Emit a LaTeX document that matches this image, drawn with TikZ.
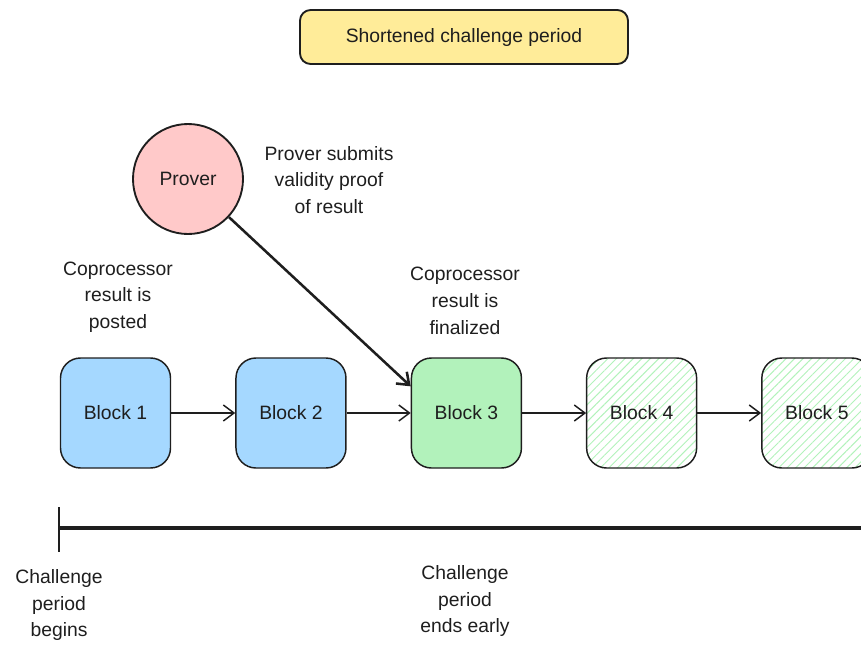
\documentclass[tikz,border=0pt]{standalone}
\usepackage{fontspec}
\setmainfont{Liberation Sans}
\usetikzlibrary{arrows.meta,positioning,patterns.meta}

\definecolor{blockblue}{HTML}{A5D8FF}
\definecolor{blockgreen}{HTML}{B2F2BB}
\definecolor{proverred}{HTML}{FFC9C9}
\definecolor{titleyellow}{HTML}{FFEC99}
\definecolor{ink}{HTML}{1E1E1E}

\tikzset{
  note/.style={align=center, text=ink, font=\fontsize{14.5}{20}\selectfont},
  block/.style={note, draw=ink, line width=1.1pt, rounded corners=15pt,
                minimum width=82.5pt, minimum height=82.5pt},
  posted/.style={block, fill=blockblue},
  final/.style={block, fill=blockgreen},
  pending/.style={block, pattern color=blockgreen,
                  pattern={Lines[angle=45,distance=4.5pt,line width=0.7pt]}},
}

\begin{document}
\begin{tikzpicture}[x=0.75pt, y=-0.75pt, node distance=48pt,
                    >={Straight Barb[length=8pt,width=12pt]}]
  \useasboundingbox (0,0) rectangle (861,644);
  \clip (0,0) rectangle (861,644);

  % title
  \node[note, draw=ink, fill=titleyellow, line width=1.4pt, rounded corners=8pt,
        minimum width=246pt, minimum height=40.5pt] (title) at (464,37)
        {Shortened challenge period};

  % blocks
  \node[posted]              (b1) at (115.5,413) {Block 1};
  \node[posted]  [right=of b1] (b2)            {Block 2};
  \node[final]   [right=of b2] (b3)            {Block 3};
  \node[pending] [right=of b3] (b4)            {Block 4};
  \node[pending] [right=of b4] (b5)            {Block 5};

  % prover
  \node[note, circle, draw=ink, fill=proverred, line width=1.4pt,
        minimum size=82.5pt] (P) at (188,179) {Prover};
  \coordinate (hit) at ([yshift=20pt]b3.west);

  % notes
  \node[note] (submits)  at (329,180) {Prover submits\\validity proof\\of result};
  \node[note] (posted)   at (118,297) {Coprocessor\\result is\\posted};
  \node[note] (final)    at (465,301) {Coprocessor\\result is\\finalized};

  \path[->, draw=ink, line width=1.1pt]
        (b1) edge (b2)
        (b2) edge (b3)
        (b3) edge (b4)
        (b4) edge (b5);
  \draw[->, draw=ink, line width=1.9pt] (P) -- (hit);

  % timeline
  \coordinate (t0)   at (59,528);
  \coordinate (t1)   at (861,528);
  \coordinate (tup)  at (59,507);
  \coordinate (tdn)  at (59,552);
  \draw[ink, line width=2.4pt] (t0) -- (t1);
  \draw[ink, line width=2.2pt] (tup) -- (tdn);

  \node[note] (begins) at (59,605)  {Challenge\\period\\begins};
  \node[note] (ends)   at (465,601) {Challenge\\period\\ends early};
\end{tikzpicture}
\end{document}
